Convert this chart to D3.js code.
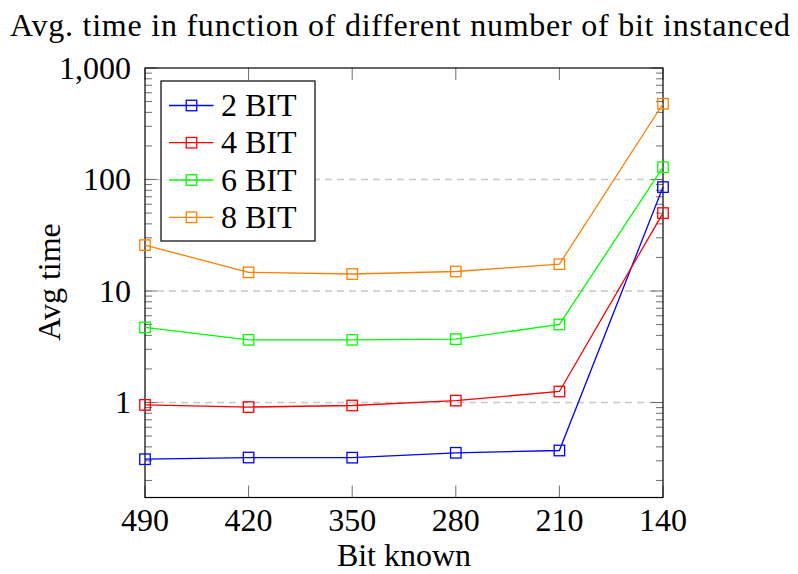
<!DOCTYPE html>
<html>
<head>
<meta charset="utf-8">
<script src="https://cdn.jsdelivr.net/npm/d3@7"></script>
<style>
  html, body { margin: 0; padding: 0; background: #fff; }
</style>
</head>
<body>
<svg id="chart" width="798" height="574"></svg>
<script>
// Bits known (x axis, decreasing left to right)
const bitsKnown = [490, 420, 350, 280, 210, 140];

// Average time per number of instanced bits
const series2 = [0.31, 0.321, 0.32, 0.354, 0.371, 85.5];
const series4 = [0.952, 0.91, 0.94, 1.04, 1.255, 50];
const series6 = [4.71, 3.65, 3.65, 3.7, 5.01, 129];
const series8 = [25.8, 14.7, 14.2, 14.96, 17.4, 478];

const seriesNames = ["2 BIT", "4 BIT", "6 BIT", "8 BIT"];
const seriesColors = ["#0000ff", "#ff0000", "#00ff00", "#ff8000"];
const yTickValues = [1, 10, 100, 1000];

const allSeries = [series2, series4, series6, series8];

(function draw() {
  const svg = d3.select("#chart");
  const pLeft = 145, pRight = 663, pTop = 68, pBottom = 497.5;
  const fs = 32;
  const serif = "'Liberation Serif', 'DejaVu Serif', 'Noto Serif', 'Times New Roman', serif";

  const x = d3.scalePoint().domain(bitsKnown).range([pLeft, pRight]);
  const y = d3.scaleLog().domain([0.1406, 1000]).range([pBottom, pTop]);

  const addText = (sel) => sel.attr("font-family", serif).attr("font-size", fs).attr("fill", "#000");

  // Horizontal grid on major decades
  svg.append("g").selectAll("line").data(yTickValues.slice(0, 3)).join("line")
    .attr("x1", pLeft).attr("x2", pRight)
    .attr("y1", d => y(d)).attr("y2", d => y(d))
    .attr("stroke", "#c8c8c8").attr("stroke-width", 1.3)
    .attr("stroke-dasharray", "7,5");

  // Minor ticks (2..9 within each decade) on the left and right edges
  const minor = [];
  for (let e = -1; e < 3; e++) {
    for (let m = 2; m <= 9; m++) {
      const v = m * Math.pow(10, e);
      if (v >= y.domain()[0] && v <= 1000) minor.push(v);
    }
  }
  const tickG = svg.append("g").attr("stroke", "#6e6e6e").attr("stroke-width", 1);
  tickG.selectAll(".mnl").data(minor).join("line")
    .attr("x1", pLeft).attr("x2", pLeft + 7)
    .attr("y1", d => y(d)).attr("y2", d => y(d));
  tickG.selectAll(".mnr").data(minor).join("line")
    .attr("x1", pRight - 7).attr("x2", pRight)
    .attr("y1", d => y(d)).attr("y2", d => y(d));
  // Major y ticks
  tickG.selectAll(".mjl").data(yTickValues).join("line")
    .attr("x1", pLeft).attr("x2", pLeft + 12)
    .attr("y1", d => y(d)).attr("y2", d => y(d));
  tickG.selectAll(".mjr").data(yTickValues).join("line")
    .attr("x1", pRight - 12).attr("x2", pRight)
    .attr("y1", d => y(d)).attr("y2", d => y(d));
  // Major x ticks on bottom and top
  tickG.selectAll(".xb").data(bitsKnown).join("line")
    .attr("x1", d => x(d)).attr("x2", d => x(d))
    .attr("y1", pBottom).attr("y2", pBottom - 12);
  tickG.selectAll(".xt").data(bitsKnown).join("line")
    .attr("x1", d => x(d)).attr("x2", d => x(d))
    .attr("y1", pTop).attr("y2", pTop + 12);

  // Axis frame
  svg.append("rect")
    .attr("x", pLeft).attr("y", pTop)
    .attr("width", pRight - pLeft).attr("height", pBottom - pTop)
    .attr("fill", "none").attr("stroke", "#000").attr("stroke-width", 1.2);

  // Axis tick labels
  const fmt = d3.format(",");
  svg.append("g").selectAll("text").data(yTickValues).join("text")
    .call(addText)
    .attr("x", 131).attr("y", d => y(d) + 10.5)
    .attr("text-anchor", "end")
    .text(d => fmt(d));
  svg.append("g").selectAll("text").data(bitsKnown).join("text")
    .call(addText)
    .attr("x", d => x(d)).attr("y", 531)
    .attr("text-anchor", "middle")
    .text(d => d);

  // Axis titles and chart title
  svg.append("text").call(addText).attr("x", 404).attr("y", 566)
    .attr("text-anchor", "middle").text("Bit known");
  svg.append("text").call(addText)
    .attr("transform", "translate(60,282) rotate(-90)")
    .attr("text-anchor", "middle").text("Avg time");
  svg.append("text").call(addText).attr("x", 10).attr("y", 36)
    .attr("textLength", 780).attr("lengthAdjust", "spacing")
    .text("Avg. time in function of different number of bit instanced");

  // Series lines and square markers
  const line = d3.line().x((d, i) => x(bitsKnown[i])).y(d => y(d));
  const ms = 10.5;
  allSeries.forEach((vals, k) => {
    const g = svg.append("g");
    g.append("path").attr("d", line(vals))
      .attr("fill", "none").attr("stroke", seriesColors[k]).attr("stroke-width", 1.3);
    g.selectAll("rect").data(vals).join("rect")
      .attr("x", (d, i) => x(bitsKnown[i]) - ms / 2)
      .attr("y", d => y(d) - ms / 2)
      .attr("width", ms).attr("height", ms)
      .attr("fill", "none").attr("stroke", seriesColors[k]).attr("stroke-width", 1.3);
  });

  // Legend
  const lg = svg.append("g");
  lg.append("rect").attr("x", 161).attr("y", 81)
    .attr("width", 154).attr("height", 160)
    .attr("fill", "#fff").attr("stroke", "#000").attr("stroke-width", 1.2);
  const rowY = [105.5, 142.7, 180, 217.3];
  seriesNames.forEach((name, k) => {
    lg.append("line").attr("x1", 169).attr("x2", 213.5)
      .attr("y1", rowY[k]).attr("y2", rowY[k])
      .attr("stroke", seriesColors[k]).attr("stroke-width", 1.3);
    lg.append("rect").attr("x", 191.5 - ms / 2).attr("y", rowY[k] - ms / 2)
      .attr("width", ms).attr("height", ms)
      .attr("fill", "none").attr("stroke", seriesColors[k]).attr("stroke-width", 1.3);
    lg.append("text").call(addText).attr("x", 221).attr("y", rowY[k] + 10.5)
      .text(name);
  });
})();
</script>
</body>
</html>
